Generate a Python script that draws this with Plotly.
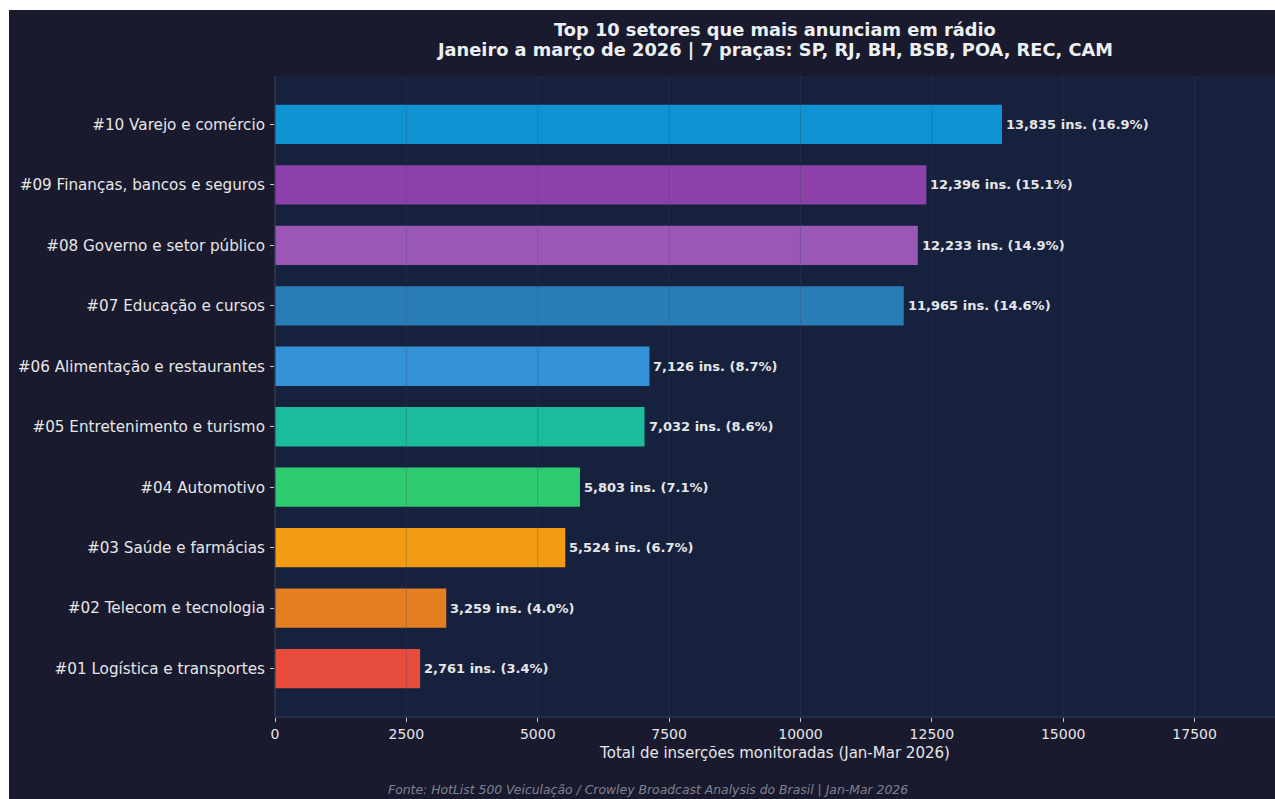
import plotly.graph_objects as go

# Sector ranking (bottom to top as drawn)
sectors = [
    "#01 Logística e transportes",
    "#02 Telecom e tecnologia",
    "#03 Saúde e farmácias",
    "#04 Automotivo",
    "#05 Entretenimento e turismo",
    "#06 Alimentação e restaurantes",
    "#07 Educação e cursos",
    "#08 Governo e setor público",
    "#09 Finanças, bancos e seguros",
    "#10 Varejo e comércio",
]
insertions = [2761, 3259, 5524, 5803, 7032, 7126, 11965, 12233, 12396, 13835]
bar_colors = [
    "#e74c3c", "#e67e22", "#f39c12", "#2ecc71", "#1abc9c",
    "#3391d6", "#287db6", "#9a57b5", "#8b41a9", "#1093d3",
]
x_ticks = [0, 2500, 5000, 7500, 10000, 12500, 15000, 17500]
title_lines = [
    "Top 10 setores que mais anunciam em rádio",
    "Janeiro a março de 2026 | 7 praças: SP, RJ, BH, BSB, POA, REC, CAM",
]

total = sum(insertions)
value_labels = [f"{v:,} ins. ({v / total * 100:.1f}%)" for v in insertions]

W, H = 1275, 799
ML, MR, MT, MB = 275, 0, 76, 82
plot_w = W - ML - MR
plot_h = H - MT - MB

FIG_BG = "#1a1a2e"
PLOT_BG = "#16213e"
TEXT = "#e6e6e6"
SPINE = "#34405a"

fig = go.Figure(
    go.Bar(
        x=insertions,
        y=sectors,
        orientation="h",
        width=0.65,
        marker=dict(color=bar_colors, line=dict(width=0)),
        hoverinfo="skip",
    )
)

# Value labels at the end of each bar
for s, v, lab in zip(sectors, insertions, value_labels):
    fig.add_annotation(
        x=v, y=s, text=f"<b>{lab}</b>", showarrow=False,
        xanchor="left", yanchor="middle", xshift=2,
        font=dict(family="DejaVu Sans", size=13, color=TEXT),
    )

def px_x(p):
    return (p - ML) / plot_w

def px_y(p):
    return (H - MB - p) / plot_h

shapes = [
    # figure background (thin white border on top/left)
    dict(type="rect", xref="paper", yref="paper", layer="below",
         x0=px_x(9), x1=px_x(W + 5), y0=px_y(H + 5), y1=px_y(10),
         fillcolor=FIG_BG, line=dict(width=0)),
    # plotting area
    dict(type="rect", xref="paper", yref="paper", layer="below",
         x0=0, x1=1, y0=0, y1=1, fillcolor=PLOT_BG, line=dict(width=0)),
]
# light vertical grid drawn over the bars
for t in x_ticks[1:]:
    shapes.append(dict(type="line", xref="x", yref="paper", layer="above",
                       x0=t, x1=t, y0=0, y1=1,
                       line=dict(color="rgba(60,70,95,0.3)", width=1)))
# left and bottom spines
shapes.append(dict(type="line", xref="paper", yref="paper", layer="above",
                   x0=0, x1=0, y0=0, y1=1, line=dict(color=SPINE, width=1.2)))
shapes.append(dict(type="line", xref="paper", yref="paper", layer="above",
                   x0=0, x1=1, y0=0, y1=0, line=dict(color=SPINE, width=1.2)))

# Two-line title
for line, ypix in zip(title_lines, [29, 49]):
    fig.add_annotation(
        xref="paper", yref="paper", x=0.5, y=px_y(ypix),
        text=f"<b>{line}</b>",
        showarrow=False, xanchor="center", yanchor="middle",
        font=dict(family="DejaVu Sans", size=17.8, color="#ecf0f1"),
    )
# Source note
fig.add_annotation(
    xref="paper", yref="paper", x=px_x(648), y=px_y(789),
    text="<i>Fonte: HotList 500 Veiculação / Crowley Broadcast Analysis do Brasil | Jan-Mar 2026</i>",
    showarrow=False, xanchor="center", yanchor="middle",
    font=dict(family="DejaVu Sans", size=12.4, color="#7f8391"),
)

fig.update_layout(
    width=W, height=H,
    margin=dict(l=ML, r=MR, t=MT, b=MB, pad=0),
    paper_bgcolor="white",
    plot_bgcolor="rgba(0,0,0,0)",
    showlegend=False,
    shapes=shapes,
    font=dict(family="DejaVu Sans", color=TEXT),
    bargap=0.35,
)
fig.update_xaxes(
    range=[0, 19030],
    tickvals=x_ticks,
    ticktext=[str(t) for t in x_ticks],
    showgrid=False, zeroline=False, showline=False,
    ticks="outside", ticklen=4, tickcolor="#c8c8c8", tickwidth=1,
    tickfont=dict(family="DejaVu Sans", size=14, color=TEXT),
    title=dict(text="Total de inserções monitoradas (Jan-Mar 2026)",
               font=dict(family="DejaVu Sans", size=15, color=TEXT), standoff=6),
    fixedrange=True,
)
fig.update_yaxes(
    type="category",
    categoryorder="array", categoryarray=sectors,
    range=[-0.8, 9.8],
    showgrid=False, zeroline=False, showline=False,
    ticks="outside", ticklen=4, tickcolor="#c8c8c8", tickwidth=1,
    ticklabelstandoff=2,
    tickfont=dict(family="DejaVu Sans", size=15.2, color=TEXT),
    fixedrange=True,
)

fig.write_html("out.html", config={"displayModeBar": False})
